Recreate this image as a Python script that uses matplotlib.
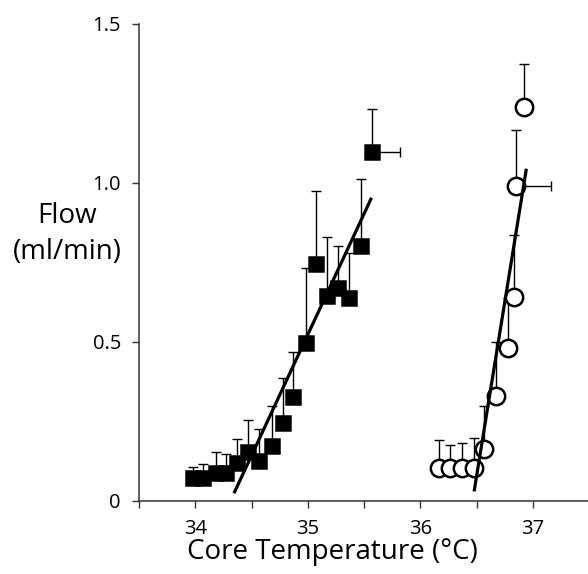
import matplotlib
matplotlib.use("Agg")
import matplotlib.pyplot as plt
import numpy as np

# filled squares
sq_temp = [33.98, 34.07, 34.18, 34.27, 34.37, 34.47, 34.57, 34.68, 34.78, 34.87,
           34.98, 35.07, 35.17, 35.27, 35.37, 35.47, 35.57]
sq_flow = [0.070, 0.072, 0.088, 0.086, 0.118, 0.154, 0.125, 0.172, 0.243, 0.327,
           0.496, 0.743, 0.645, 0.670, 0.636, 0.801, 1.096]
sq_err = [0.037, 0.043, 0.065, 0.062, 0.077, 0.099, 0.099, 0.126, 0.142, 0.141,
          0.235, 0.231, 0.183, 0.130, 0.142, 0.210, 0.135]
sq_xerr = [0, 0, 0, 0, 0, 0, 0, 0, 0, 0, 0, 0, 0, 0, 0, 0, 0.25]

# open circles
ci_temp = [36.17, 36.26, 36.37, 36.48, 36.57, 36.67, 36.78, 36.83, 36.85, 36.92]
ci_flow = [0.102, 0.102, 0.102, 0.102, 0.163, 0.329, 0.479, 0.642, 0.990, 1.237]
ci_err = [0.089, 0.073, 0.080, 0.094, 0.135, 0.171, 0.160, 0.194, 0.176, 0.135]
ci_xerr = [0, 0, 0, 0, 0, 0, 0, 0, 0.31, 0]

# regression lines
sq_fit_t = [34.35, 35.56]
sq_fit_f = [0.028, 0.948]
ci_fit_t = [36.48, 36.94]
ci_fit_f = [0.034, 1.039]

x_ticks = [33.5, 34, 34.5, 35, 35.5, 36, 36.5, 37]
x_labels = ["", "34", "", "35", "", "36", "", "37"]
y_ticks = [0, 0.5, 1.0, 1.5]
y_labels = ["0", "0.5", "1.0", "1.5"]

plt.rcParams['font.family'] = ['Open Sans', 'DejaVu Sans']

fig = plt.figure(figsize=(5.88, 5.74), dpi=100)
ax = fig.add_axes([0.2364, 0.1277, 0.7636, 0.831])


def draw_group(ax, xs, ys, err, xerr, marker, face, size, z):
    zeros = np.zeros(len(ys))
    ax.errorbar(xs, ys, yerr=[zeros, err], xerr=[zeros, xerr], fmt="none",
                ecolor="black", elinewidth=1, capsize=3.3, capthick=1, zorder=z)
    ax.plot(xs, ys, linestyle="none", marker=marker, markersize=size,
            markerfacecolor=face, markeredgecolor="black", markeredgewidth=1.8,
            zorder=z + 1)


draw_group(ax, sq_temp, sq_flow, sq_err, sq_xerr, "s", "black", 9.5, 2)
ax.plot(sq_fit_t, sq_fit_f, color="black", linewidth=2.3, zorder=5)

draw_group(ax, ci_temp, ci_flow, ci_err, ci_xerr, "o", "white", 12.5, 2)
ax.plot(ci_fit_t, ci_fit_f, color="black", linewidth=2.3, zorder=5)

ax.set_xlim(33.5, 37.49)
ax.set_ylim(0, 1.5)
ax.set_xticks(x_ticks)
ax.set_xticklabels(x_labels)
ax.set_yticks(y_ticks)
ax.set_yticklabels(y_labels)

for side in ["top", "right"]:
    ax.spines[side].set_visible(False)
for side in ["left", "bottom"]:
    ax.spines[side].set_linewidth(1.1)
    ax.spines[side].set_color("#333333")
    ax.spines[side].set_clip_on(False)

ax.tick_params(axis="both", direction="out", length=5, width=1, color="#333333",
               labelsize=14.5, pad=8)

ax.set_xlabel("Core Temperature (°C)", fontsize=20)
ax.xaxis.set_label_coords(0.43, -0.078)
fig.text(67 / 588, 1 - 234 / 574, "Flow\n(ml/min)", ha="center", va="center",
         fontsize=20, linespacing=1.42)

fig.savefig("out.png", dpi=100)
